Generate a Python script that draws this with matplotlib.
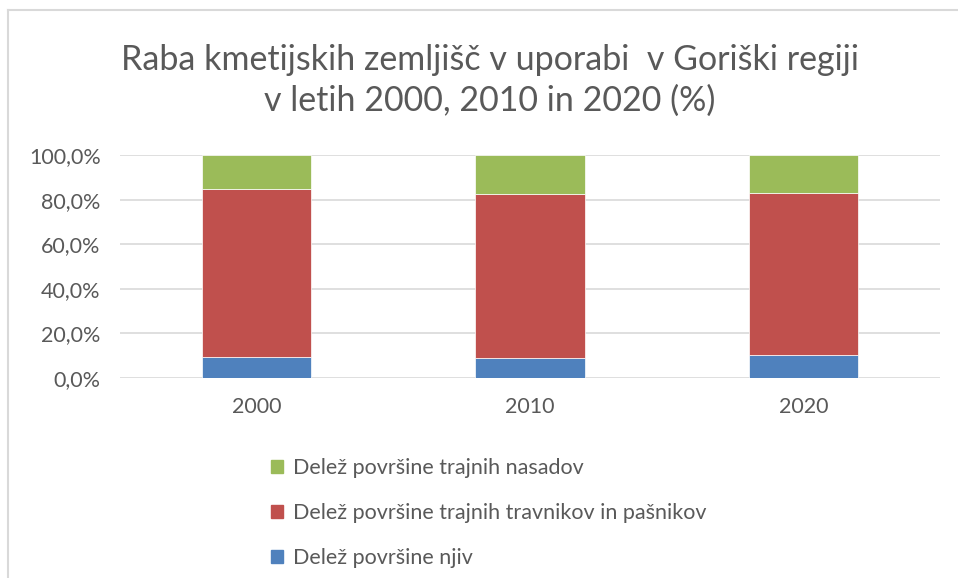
import numpy as np
import matplotlib
matplotlib.use("Agg")
import matplotlib.pyplot as plt
from matplotlib.lines import Line2D
from matplotlib.patches import Patch

years = ["2000", "2010", "2020"]
njive = [9.5, 9.1, 10.2]
travniki = [75.2, 73.2, 72.6]
nasadi = [15.3, 17.7, 17.2]

labels = ["Delež površine njiv",
          "Delež površine trajnih travnikov in pašnikov",
          "Delež površine trajnih nasadov"]
colors = ["#4f81bd", "#c0504d", "#9bbb59"]

plt.rcParams["font.family"] = ["Lato", "DejaVu Sans"]
txt = "#595959"

fig = plt.figure(figsize=(9.58, 5.78), dpi=100)
ax = fig.add_axes([120 / 958, 1 - 378 / 578, 820 / 958, 223 / 578])

x = np.arange(len(years))
w = 0.4
ax.bar(x, njive, w, color=colors[0], edgecolor="white", linewidth=0.5, zorder=3)
ax.bar(x, travniki, w, bottom=njive, color=colors[1], edgecolor="white", linewidth=0.5, zorder=3)
ax.bar(x, nasadi, w, bottom=np.array(njive) + np.array(travniki),
       color=colors[2], edgecolor="white", linewidth=0.5, zorder=3)

ax.set_xlim(-0.5, 2.5)
ax.set_ylim(0, 100)
ax.set_yticks(np.arange(0, 101, 20))
ax.set_yticklabels([f"{v:.1f}%".replace(".", ",") for v in range(0, 101, 20)])
ax.set_xticks(x)
ax.set_xticklabels(years)
ax.grid(axis="y", color="#d9d9d9", linewidth=1.2, zorder=0)
for s in ax.spines.values():
    s.set_visible(False)
ax.tick_params(length=0, colors=txt, labelsize=15.5)
ax.tick_params(axis="y", pad=14)
ax.tick_params(axis="x", pad=14)

fig.text(0.511, 1 - 60 / 578, "Raba kmetijskih zemljišč v uporabi  v Goriški regiji",
         ha="center", va="center", fontsize=24.5, color=txt)
fig.text(0.511, 1 - 101 / 578, "v letih 2000, 2010 in 2020 (%)",
         ha="center", va="center", fontsize=24.5, color=txt)

handles = [Patch(color=colors[2]), Patch(color=colors[1]), Patch(color=colors[0])]
leg = fig.legend(handles, labels[::-1], loc="upper left",
                 bbox_to_anchor=(252 / 958, 1 - 439 / 578), frameon=False,
                 fontsize=15.5, labelspacing=1.15, handlelength=0.55, handleheight=0.55,
                 handletextpad=0.45, labelcolor=txt)

# chart border
fig.add_artist(Line2D([8 / 958, 1], [1 - 10 / 578, 1 - 10 / 578], color="#d9d9d9", linewidth=1.5))
fig.add_artist(Line2D([8 / 958, 8 / 958], [0, 1 - 10 / 578], color="#d9d9d9", linewidth=1.5))

fig.savefig("out.png", dpi=100)
